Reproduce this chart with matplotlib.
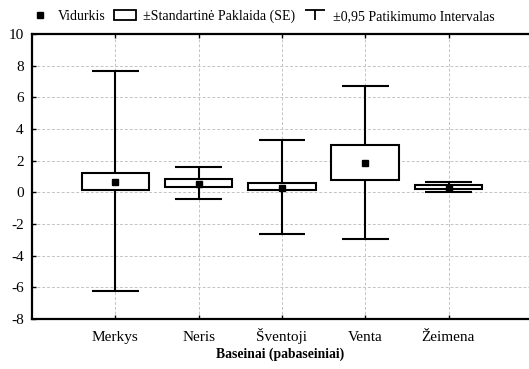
import numpy as np
import matplotlib
matplotlib.use("Agg")
import matplotlib.pyplot as plt
from matplotlib.lines import Line2D
from matplotlib.patches import Patch
from matplotlib.path import Path

plt.rcParams['font.family'] = ['Liberation Serif', 'DejaVu Serif']
plt.rcParams['axes.unicode_minus'] = False

# data
basins = ['Merkys', 'Neris', 'Šventoji', 'Venta', 'Žeimena']
means = [0.63, 0.52, 0.25, 1.87, 0.27]
se_low = [0.15, 0.34, 0.13, 0.78, 0.21]
se_high = [1.24, 0.86, 0.59, 3.00, 0.44]
ci_low = [-6.24, -0.44, -2.61, -2.95, 0.01]
ci_high = [7.66, 1.60, 3.30, 6.73, 0.63]
yticks = [-8, -6, -4, -2, 0, 2, 4, 6, 8, 10]

W, H = 529, 369
fig = plt.figure(figsize=(W / 100, H / 100), dpi=100)
ax = fig.add_axes([32 / W, (H - 319) / H, 1 - 32 / W, (319 - 34) / H])

x = np.arange(1, len(basins) + 1)

# whiskers and caps
ax.vlines(x, ci_low, ci_high, color='black', lw=1.5, zorder=2)
ax.hlines(ci_low, x - 0.28, x + 0.28, color='black', lw=1.5, zorder=2)
ax.hlines(ci_high, x - 0.28, x + 0.28, color='black', lw=1.5, zorder=2)

# SE boxes
heights = np.array(se_high) - np.array(se_low)
ax.bar(x, heights, bottom=se_low, width=0.81, facecolor='white',
       edgecolor='black', linewidth=1.5, zorder=3)

# means
ax.plot(x, means, 's', color='black', markersize=5, zorder=4)

ax.set_xlim(0, (W - 32) / 83.3)
ax.set_ylim(-8, 10)
ax.set_xticks(x)
ax.set_xticklabels(basins, fontsize=11, va='baseline')
ax.set_yticks(yticks)
ax.set_yticklabels([str(t) for t in yticks], fontsize=11)
ax.tick_params(axis='x', direction='in', length=3, width=1, top=True, pad=15.5)
ax.tick_params(axis='y', direction='in', length=3, width=1, pad=6)
ax.grid(True, color='#c4c4c4', linestyle=(0, (3, 2)), linewidth=0.7, zorder=0)
ax.set_axisbelow(True)
for side in ['left', 'top', 'bottom']:
    ax.spines[side].set_linewidth(1.6)
ax.spines['right'].set_visible(False)

ax.set_xlabel('Baseinai (pabaseiniai)', fontsize=9.8, fontweight='bold', labelpad=3)

# legend
t_path = Path([(-1, 0.5), (1, 0.5), (0, 0.5), (0, -0.5)],
              [Path.MOVETO, Path.LINETO, Path.MOVETO, Path.LINETO])
handles = [
    Line2D([], [], marker='s', color='black', linestyle='none', markersize=4.5),
    Patch(facecolor='white', edgecolor='black', linewidth=1.3),
    Line2D([], [], marker=t_path, color='black', linestyle='none',
           markersize=15, markeredgewidth=1.3),
]
labels = ['Vidurkis', '±Standartinė Paklaida (SE)', '±0,95 Patikimumo Intervalas']
fig.legend(handles, labels, loc='center', bbox_to_anchor=(0.495, 0.955), ncol=3,
           frameon=False, fontsize=10, handlelength=1.6, handletextpad=0.5,
           columnspacing=0.6)

fig.savefig('out.png', dpi=100)
